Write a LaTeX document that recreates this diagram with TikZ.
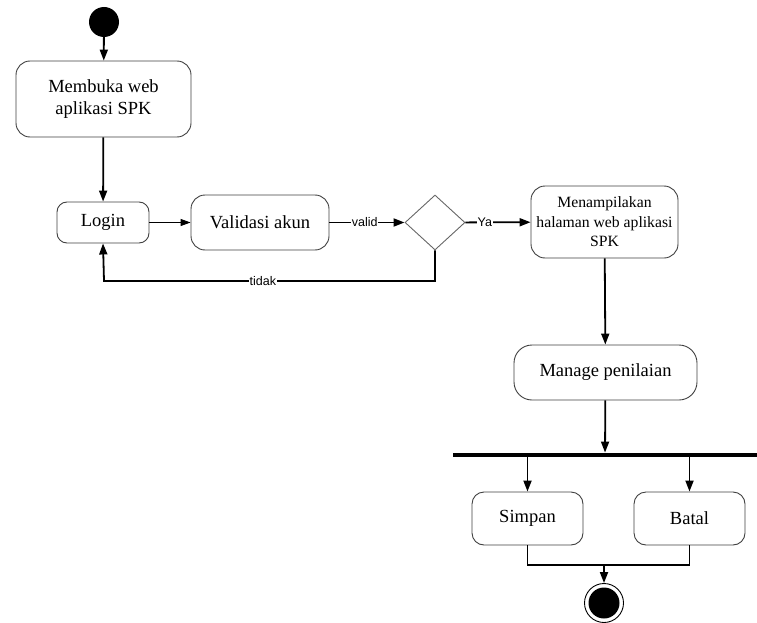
\documentclass[tikz,border=0pt]{standalone}
\usepackage{fontspec}
\setmainfont{Liberation Serif}
\newfontfamily\labelfont{Liberation Sans}
\usetikzlibrary{arrows.meta,shapes.geometric}
\begin{document}
\begin{tikzpicture}[x=1pt,y=-1pt,
  actbox/.style={draw=black!75,line width=0.9pt,rounded corners=14pt,fill=white,align=center,inner sep=0pt},
  bigtext/.style={font=\fontsize{18.5}{22}\selectfont},
  flow/.style={line width=1.8pt,-{Triangle[length=11pt,width=8pt]}},
  thinflow/.style={line width=1pt,-{Triangle[length=10pt,width=7pt]}},
  plain/.style={line width=1.8pt},
  lbl/.style={font=\labelfont\fontsize{12.5}{14}\selectfont,fill=white,inner sep=0.5pt}]
\useasboundingbox (0,0) rectangle (757,623);
% start and end markers
\node (start) [circle,fill=black,minimum size=30pt,inner sep=0pt] at (104,22) {};
% activity boxes
\node (open) [actbox,bigtext,minimum width=175pt,minimum height=76pt] at (103.5,99) {Membuka web\\aplikasi SPK};
\node (login) [actbox,bigtext,rounded corners=10pt,minimum width=92pt,minimum height=41pt] at (103,222.5) {Login};
\node (valid) [actbox,bigtext,minimum width=138pt,minimum height=55pt] at (260,222.5) {Validasi akun};
\node (dec) [diamond,draw=black!60,line width=0.9pt,minimum width=60pt,minimum height=55pt,inner sep=0pt,aspect=1.1] at (435,222.5) {};
\node (show) [actbox,minimum width=147pt,minimum height=72pt,font=\fontsize{15.7}{19.5}\selectfont] at (604.5,222) {Menampilakan\\halaman web aplikasi\\SPK};
\node (manage) [actbox,bigtext,rounded corners=18pt,minimum width=183pt,minimum height=55pt] at (605.5,372.5) {Manage penilaian};
% fork bar
\node (fork) [fill=black,minimum width=304pt,minimum height=4.5pt,inner sep=0pt] at (605,455) {};
\node (save) [actbox,bigtext,rounded corners=12pt,minimum width=111pt,minimum height=53pt] at (527.5,518.5) {Simpan};
\node (cancel) [actbox,bigtext,rounded corners=12pt,minimum width=111pt,minimum height=53pt] at (689.5,518.5) {Batal};
\node (stop) [circle,draw=black,line width=0.9pt,minimum size=39pt,inner sep=0pt] at (604,603) {};
\node (stopdot) [circle,fill=black,minimum size=31pt,inner sep=0pt] at (604,603) {};
\coordinate (join) at (604,565);
\coordinate (back) at (104,281);
% connectors
\draw[flow] (start) -- (open);
\draw[flow] (open) -- (login);
\draw[thinflow] (login) -- (valid);
\draw[flow] (valid) -- node[lbl,pos=0.47] {valid} (dec);
\draw[flow] (dec) -- node[lbl,pos=0.3] {Ya} (show);
\draw[flow] (dec.south) |- node[lbl,pos=0.76] {tidak} (back) -- (login.south);
\draw[flow] (show) -- (manage);
\draw[flow] (manage) -- (fork);
\draw[flow] (save.north |- fork.south) -- (save);
\draw[flow] (cancel.north |- fork.south) -- (cancel);
\draw[plain] (save.south) |- (join) -| (cancel.south);
\draw[flow] (join) -- (stop);
\end{tikzpicture}
\end{document}
